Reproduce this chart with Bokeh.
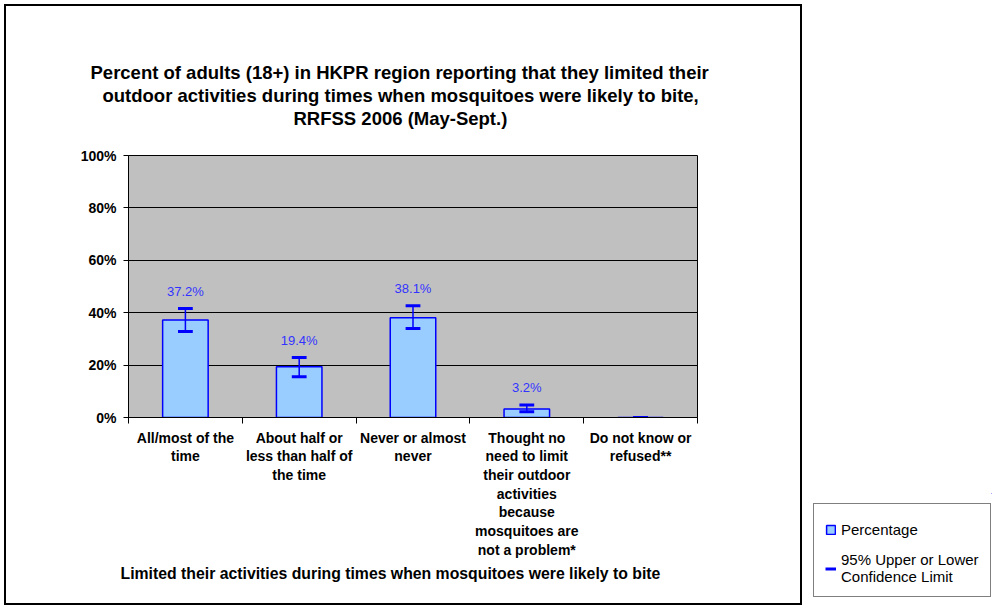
from bokeh.plotting import figure
from bokeh.layouts import row, column
from bokeh.models import (Range1d, FixedTicker, Legend, LegendItem, Title, Spacer,
                          ColumnDataSource, PrintfTickFormatter)
from bokeh.embed import file_html
from bokeh.resources import INLINE

# ---------------- data ----------------
categories = [
    "All/most of the\ntime",
    "About half or\nless than half of\nthe time",
    "Never or almost\nnever",
    "Thought no\nneed to limit\ntheir outdoor\nactivities\nbecause\nmosquitoes are\nnot a problem*",
    "Do not know or\nrefused**",
]
percentages = [37.2, 19.4, 38.1, 3.2, 0.0]
upper_ci = [41.6, 22.9, 42.7, 4.8, 0.0]
lower_ci = [32.8, 15.6, 34.0, 2.2, 0.0]
value_labels = ["37.2%", "19.4%", "38.1%", "3.2%", ""]
y_ticks = [0, 20, 40, 60, 80, 100]

title_lines = ["Percent of adults (18+) in HKPR region reporting that they limited their",
               "outdoor activities during times when mosquitoes were likely to bite,",
               "RRFSS 2006 (May-Sept.)"]
title_line_offsets = [-38, -26, 165]      # left edge of each line relative to the plot area
x_title = "Limited their activities during times when mosquitoes were likely to bite"
legend_labels = ["Percentage", "95% Upper or Lower\nConfidence Limit"]

# ---------------- main chart ----------------
FONT = "Liberation Sans"
BLUE = "#0000FF"
W, H = 798, 601

xs = [i + 0.5 for i in range(len(categories))]

p = figure(width=W, height=H, output_backend="svg", toolbar_location=None,
           x_range=Range1d(0, len(categories)), y_range=Range1d(0, 100),
           min_border_left=122, min_border_right=W - 691,
           min_border_top=149, min_border_bottom=H - 411)
p.styles = {"border": "2px solid black"}
p.margin = (4, 0, 0, 4)
p.title.visible = False
p.background_fill_color = "#C0C0C0"
p.border_fill_color = "white"
p.outline_line_color = "black"
p.outline_line_width = 1

# axes
p.yaxis.ticker = FixedTicker(ticks=y_ticks)
p.yaxis.formatter = PrintfTickFormatter(format="%d%%")
p.yaxis.major_label_text_font = FONT
p.yaxis.major_label_text_font_style = "bold"
p.yaxis.major_label_text_font_size = "14px"
p.yaxis.major_label_text_color = "black"
p.yaxis.major_tick_out = 5
p.yaxis.major_tick_in = 0
p.yaxis.minor_tick_line_color = None
p.yaxis.major_label_standoff = 7
p.yaxis.axis_line_color = "black"

p.xaxis.ticker = FixedTicker(ticks=xs, minor_ticks=list(range(len(categories) + 1)))
p.xaxis.major_label_overrides = {x: c for x, c in zip(xs, categories)}
p.xaxis.major_label_text_font = FONT
p.xaxis.major_label_text_font_style = "bold"
p.xaxis.major_label_text_font_size = "14px"
p.xaxis.major_label_text_color = "black"
p.xaxis.major_label_text_line_height = 1.17
p.xaxis.major_tick_out = 0
p.xaxis.major_tick_in = 0
p.xaxis.minor_tick_out = 6
p.xaxis.minor_tick_in = 0
p.xaxis.major_label_standoff = 6
p.xaxis.axis_line_color = "black"

p.xgrid.grid_line_color = None
p.ygrid.grid_line_color = "black"
p.ygrid.grid_line_width = 1

# bars
src = ColumnDataSource(dict(x=xs, top=percentages, upper=upper_ci, lower=lower_ci, lab=value_labels))
p.vbar(x="x", top="top", width=0.4, source=src, fill_color="#99CCFF",
       line_color=BLUE, line_width=1.5)

# error bars (95% CI)
p.segment(x0="x", y0="lower", x1="x", y1="upper", source=src, line_color=BLUE, line_width=1.5)
cap_half = 0.065
cap_src = ColumnDataSource(dict(
    x0=[x - cap_half for x in xs] * 2,
    x1=[x + cap_half for x in xs] * 2,
    y=upper_ci + lower_ci))
p.segment(x0="x0", y0="y", x1="x1", y1="y", source=cap_src, line_color=BLUE, line_width=3)

# value labels
p.text(x="x", y="upper", text="lab", source=src, text_align="center", text_baseline="middle",
       y_offset=-17, text_font={"value": FONT}, text_font_size="13px", text_color="#3333FF")

# title: a small gap next to the plot, then one Title per line (first added sits closest)
p.add_layout(Title(text=" ", text_font_size="1px", standoff=24), "above")
for line, off in reversed(list(zip(title_lines, title_line_offsets))):
    p.add_layout(Title(text=line, align="left", offset=off, standoff=0,
                       text_font=FONT, text_font_style="bold", text_font_size="18.5px",
                       text_color="black"), "above")
p.add_layout(Title(text=x_title, align="left", offset=-8, standoff=4,
                   text_font=FONT, text_font_style="bold", text_font_size="15.8px",
                   text_color="black"), "below")

# ---------------- legend panel ----------------
q = figure(width=190, height=114, output_backend="svg", toolbar_location=None,
           min_border=0, x_axis_location=None, y_axis_location=None,
           x_range=Range1d(-20, -19), y_range=Range1d(-20, -19))
q.title.visible = False
q.outline_line_color = None
q.background_fill_color = "white"
q.border_fill_color = "white"
q.xgrid.grid_line_color = None
q.ygrid.grid_line_color = None
leg_bar = q.vbar(x="x", top="top", width=0.4, source=src, fill_color="#99CCFF",
                 line_color=BLUE, line_width=1.5)
leg_ci = q.segment(x0="x0", y0="y", x1="x1", y1="y", source=cap_src, line_color=BLUE, line_width=3)
legend = Legend(items=[LegendItem(label=legend_labels[0], renderers=[leg_bar]),
                       LegendItem(label=legend_labels[1], renderers=[leg_ci])],
                location=(11, 10), border_line_color="black", border_line_width=1,
                glyph_width=11, glyph_height=11, label_text_font=FONT,
                label_text_font_size="15px", label_standoff=5, label_text_color="black",
                label_height=28,
                padding=11, spacing=8, margin=0)
q.add_layout(legend)

layout = row(p, column(Spacer(height=493), q))
open("out.html", "w").write(file_html(layout, INLINE))
